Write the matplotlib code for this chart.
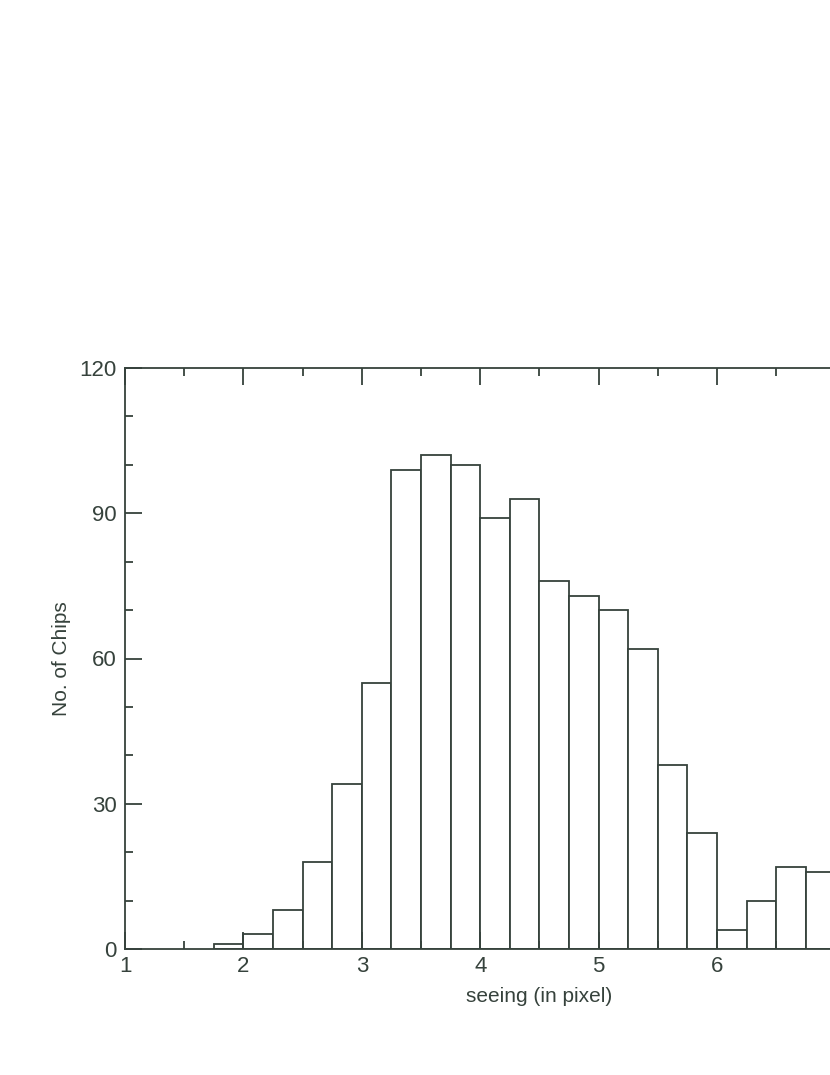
import numpy as np
import matplotlib
matplotlib.use("Agg")
import matplotlib.pyplot as plt
from matplotlib.ticker import MultipleLocator

# histogram of seeing values (bin left edges, width 0.25)
bin_left = [1.75, 2.00, 2.25, 2.50, 2.75, 3.00, 3.25, 3.50, 3.75, 4.00, 4.25,
            4.50, 4.75, 5.00, 5.25, 5.50, 5.75, 6.00, 6.25, 6.50, 6.75]
counts = [1, 3, 8, 18, 34, 55, 99, 102, 100, 89, 93,
          76, 73, 70, 62, 38, 24, 4, 10, 17, 16]
bin_width = 0.25
x_ticks = [1, 2, 3, 4, 5, 6, 7, 8]
x_ticklabels = ["1", "2", "3", "4", "5", "6", "", ""]

INK = "#36423c"
plt.rcParams["font.family"] = ["Liberation Sans", "DejaVu Sans"]

fig = plt.figure(figsize=(8.3, 10.75), dpi=100)
# axes run past the right edge of the figure, as in the reference crop
ax = fig.add_axes([125 / 830, 126 / 1075, 7 * 118.4 / 830, 581 / 1075])

ax.bar(bin_left, counts, width=bin_width, align="edge", facecolor="white",
       edgecolor=INK, linewidth=1.3)

ax.set_xlim(1, 8)
ax.set_ylim(0, 120)
ax.set_xticks(x_ticks, labels=x_ticklabels)
ax.xaxis.set_minor_locator(MultipleLocator(0.5))
ax.yaxis.set_major_locator(MultipleLocator(30))
ax.yaxis.set_minor_locator(MultipleLocator(10))
ax.tick_params(which="both", direction="in", top=True, right=True,
               color=INK, labelcolor=INK, width=1.3, labelsize=16)
ax.tick_params(which="major", length=12, pad=5)
ax.tick_params(axis="y", which="major", pad=6)
ax.tick_params(which="minor", length=6)
for s in ax.spines.values():
    s.set_color(INK)
    s.set_linewidth(1.3)

ax.set_xlabel("seeing (in pixel)", fontsize=15, color=INK, labelpad=7)
ax.set_ylabel("No. of Chips", fontsize=15, color=INK, labelpad=6)

fig.savefig("out.png", dpi=100)
